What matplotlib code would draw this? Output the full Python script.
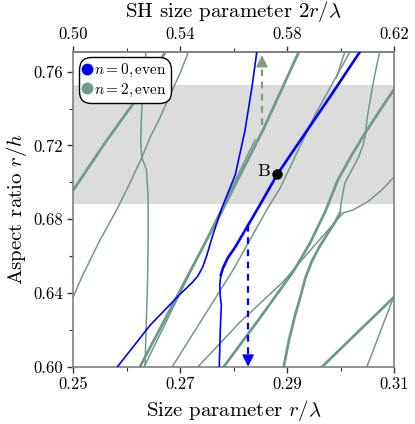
import matplotlib
matplotlib.use('Agg')
import matplotlib.pyplot as plt
from matplotlib.lines import Line2D
from matplotlib.ticker import FormatStrFormatter

plt.rcParams['font.family'] = 'serif'
plt.rcParams['font.serif'] = ['cmr10']
plt.rcParams['mathtext.fontset'] = 'cm'
plt.rcParams['axes.formatter.use_mathtext'] = True

GREEN = '#6f9a8b'
BLUE = '#0000ff'

# shaded aspect-ratio window
band_lo, band_hi = 0.688, 0.753

# n = 2 (green) branches: size parameter r/lambda vs aspect ratio r/h
g1_x = [0.2490, 0.2500, 0.2559, 0.2621, 0.2675]
g1_y = [0.6916, 0.6958, 0.7213, 0.7463, 0.7720]
ga_x = [0.2495, 0.2500, 0.2516, 0.2550, 0.2581, 0.2606, 0.2619, 0.2628, 0.2644, 0.2662, 0.2681, 0.2700, 0.2717]
ga_y = [0.6343, 0.6378, 0.6487, 0.6687, 0.6850, 0.6996, 0.7078, 0.7132, 0.7246, 0.7349, 0.7474, 0.7593, 0.7720]
gv_x = [0.2634, 0.2639, 0.2640, 0.2640, 0.2637, 0.2628, 0.2626, 0.2629, 0.2636, 0.2637]
gv_y = [0.5990, 0.6470, 0.6687, 0.6920, 0.7067, 0.7137, 0.7230, 0.7457, 0.7707, 0.7720]
g2_x = [0.2623, 0.2781, 0.2855, 0.2924]
g2_y = [0.5990, 0.6861, 0.7284, 0.7720]
g2b_x = [0.2631, 0.2840]
g2b_y = [0.5990, 0.7230]
g3_x = [0.2683, 0.2799, 0.2864, 0.2887, 0.2952, 0.3020]
g3_y = [0.5990, 0.6525, 0.6861, 0.6969, 0.7365, 0.7720]
g3b_x = [0.2992, 0.3008, 0.3010]
g3b_y = [0.7566, 0.7707, 0.7720]
gjlo_x = [0.2893, 0.2904, 0.2915, 0.2925, 0.2934, 0.2946, 0.2960, 0.2975, 0.2990, 0.2999]
gjlo_y = [0.5990, 0.6150, 0.6280, 0.6380, 0.6480, 0.6570, 0.6648, 0.6718, 0.6785, 0.6834]
gjup_x = [0.2999, 0.3001, 0.3008, 0.3021, 0.3033, 0.3042, 0.3046, 0.3050, 0.3061, 0.3074]
gjup_y = [0.6834, 0.6888, 0.6996, 0.7067, 0.7132, 0.7202, 0.7246, 0.7354, 0.7539, 0.7720]
gp_x = [0.2730, 0.2812, 0.2892, 0.2952, 0.2990, 0.3005, 0.3023, 0.3051, 0.3077, 0.3105]
gp_y = [0.5990, 0.6242, 0.6459, 0.6660, 0.6785, 0.6834, 0.6850, 0.6895, 0.6958, 0.7044]
gq_x = [0.2779, 0.2849, 0.2911, 0.2943, 0.2971, 0.2995, 0.3021, 0.3046, 0.3074, 0.3105]
gq_y = [0.5990, 0.6264, 0.6514, 0.6671, 0.6839, 0.7013, 0.7148, 0.7268, 0.7392, 0.7525]
gr1_x = [0.2962, 0.3105]
gr1_y = [0.5990, 0.6392]
gr2_x = [0.3048, 0.3105]
gr2_y = [0.5990, 0.6421]

# n = 0 (blue) branches
bt_x = [0.2580, 0.2644, 0.2700, 0.2722, 0.2733, 0.2742, 0.2750, 0.2761, 0.2778, 0.2803, 0.2821, 0.2834, 0.2844]
bt_y = [0.5990, 0.6226, 0.6394, 0.6455, 0.6492, 0.6540, 0.6606, 0.6714, 0.6861, 0.7040, 0.7278, 0.7512, 0.7720]
bk_x = [0.2776, 0.2780, 0.2789, 0.2803, 0.2825, 0.2849, 0.2882, 0.2915, 0.2980, 0.3039]
bk_y = [0.6497, 0.6535, 0.6590, 0.6649, 0.6758, 0.6877, 0.7045, 0.7186, 0.7463, 0.7720]
bv_x = [0.2776, 0.2774, 0.2775, 0.2777, 0.2775, 0.2773]
bv_y = [0.6497, 0.6443, 0.6380, 0.6335, 0.6199, 0.5990]

# point B and the two dashed arrows (x, y_start, y_tip)
b_x, b_y = 0.2882, 0.7045
blue_arrow = (0.2827, 0.6769, 0.600)
green_arrow = (0.2853, 0.731, 0.7690)

green_thick = [(g1_x, g1_y), (g2_x, g2_y), (gq_x, gq_y), (gr1_x, gr1_y), (gjlo_x, gjlo_y)]
green_thin = [(ga_x, ga_y), (gv_x, gv_y), (g2b_x, g2b_y), (g3_x, g3_y), (g3b_x, g3b_y),
              (gjup_x, gjup_y), (gp_x, gp_y), (gr2_x, gr2_y)]

fig = plt.figure(figsize=(4.15, 4.24), dpi=100)
ax = fig.add_axes([0.1766, 0.1351, 0.9494 - 0.1766, 0.8774 - 0.1351])

ax.axhspan(band_lo, band_hi, color='#dcdcdc', lw=0, zorder=0)

for xs, ys in green_thin:
    ax.plot(xs, ys, color=GREEN, lw=1.1, zorder=2)
for xs, ys in green_thick:
    ax.plot(xs, ys, color=GREEN, lw=2.0, zorder=2)

ax.plot(bt_x, bt_y, color=BLUE, lw=1.2, zorder=3)
ax.plot(bv_x, bv_y, color=BLUE, lw=1.2, zorder=3)
ax.plot(bk_x, bk_y, color=BLUE, lw=1.9, zorder=3)

# dashed arrows
for (x, y0, y1), col in [(blue_arrow, BLUE), (green_arrow, '#7fa07f')]:
    d = 0.006 if y1 < y0 else -0.006
    ax.plot([x, x], [y0, y1 + d], color=col, lw=1.6, ls=(0, (3, 2.5)), zorder=4)
    ax.annotate('', xy=(x, y1), xytext=(x, y1 + d),
                arrowprops=dict(arrowstyle='-|>,head_length=0.5,head_width=0.25',
                                mutation_scale=14, color=col, lw=1.2,
                                shrinkA=0, shrinkB=0), zorder=4)

ax.plot([b_x], [b_y], 'o', color='black', ms=6.5, zorder=5)
ax.annotate('B', (b_x, b_y), xytext=(-5, 2), textcoords='offset points',
            ha='right', va='center', fontsize=13)

ax.set_xlim(0.25, 0.31)
ax.set_ylim(0.60, 0.7707)
ax.set_xticks([0.25, 0.27, 0.29, 0.31])
ax.set_xticks([0.26, 0.28, 0.30], minor=True)
ax.set_yticks([0.60, 0.64, 0.68, 0.72, 0.76])
ax.set_yticks([0.62, 0.66, 0.70, 0.74], minor=True)
ax.xaxis.set_major_formatter(FormatStrFormatter('%.2f'))
ax.yaxis.set_major_formatter(FormatStrFormatter('%.2f'))
ax.tick_params(which='both', direction='out', labelsize=12, color='#333333', top=False, right=False)
ax.tick_params(which='major', length=4, width=1)
ax.tick_params(which='minor', length=3, width=0.8)
for sp in ax.spines.values():
    sp.set_color('#808080')
    sp.set_linewidth(1.2)

ax.set_xlabel(r'Size parameter $r/\lambda$', fontsize=15, labelpad=4)
ax.set_ylabel(r'Aspect ratio $r/h$', fontsize=15, labelpad=3)

sec = ax.secondary_xaxis('top', functions=(lambda x: 2 * x, lambda x: x / 2))
sec.set_xticks([0.50, 0.54, 0.58, 0.62])
sec.set_xticks([0.52, 0.56, 0.60], minor=True)
sec.xaxis.set_major_formatter(FormatStrFormatter('%.2f'))
sec.tick_params(which='both', direction='out', labelsize=12, color='#333333')
sec.tick_params(which='major', length=4, width=1)
sec.tick_params(which='minor', length=3, width=0.8)
sec.spines['top'].set_color('#808080')
sec.spines['top'].set_linewidth(1.2)
sec.set_xlabel(r'SH size parameter $2r/\lambda$', fontsize=15, labelpad=7)

handles = [Line2D([], [], marker='o', ls='none', color=BLUE, ms=7.5, label=r'$n=0,\mathrm{even}$'),
           Line2D([], [], marker='o', ls='none', color=GREEN, ms=7.5, label=r'$n=2,\mathrm{even}$')]
leg = ax.legend(handles=handles, loc='upper left', fontsize=11, frameon=True, fancybox=True,
                handlelength=0.5, handletextpad=0.2, borderpad=0.3, labelspacing=0.15,
                borderaxespad=0.35, framealpha=1)
leg.get_frame().set_edgecolor('black')
leg.get_frame().set_linewidth(1.0)
leg.get_frame().set_boxstyle('round', pad=0, rounding_size=0.8)
leg.set_zorder(10)

fig.savefig('out.png', dpi=100)
